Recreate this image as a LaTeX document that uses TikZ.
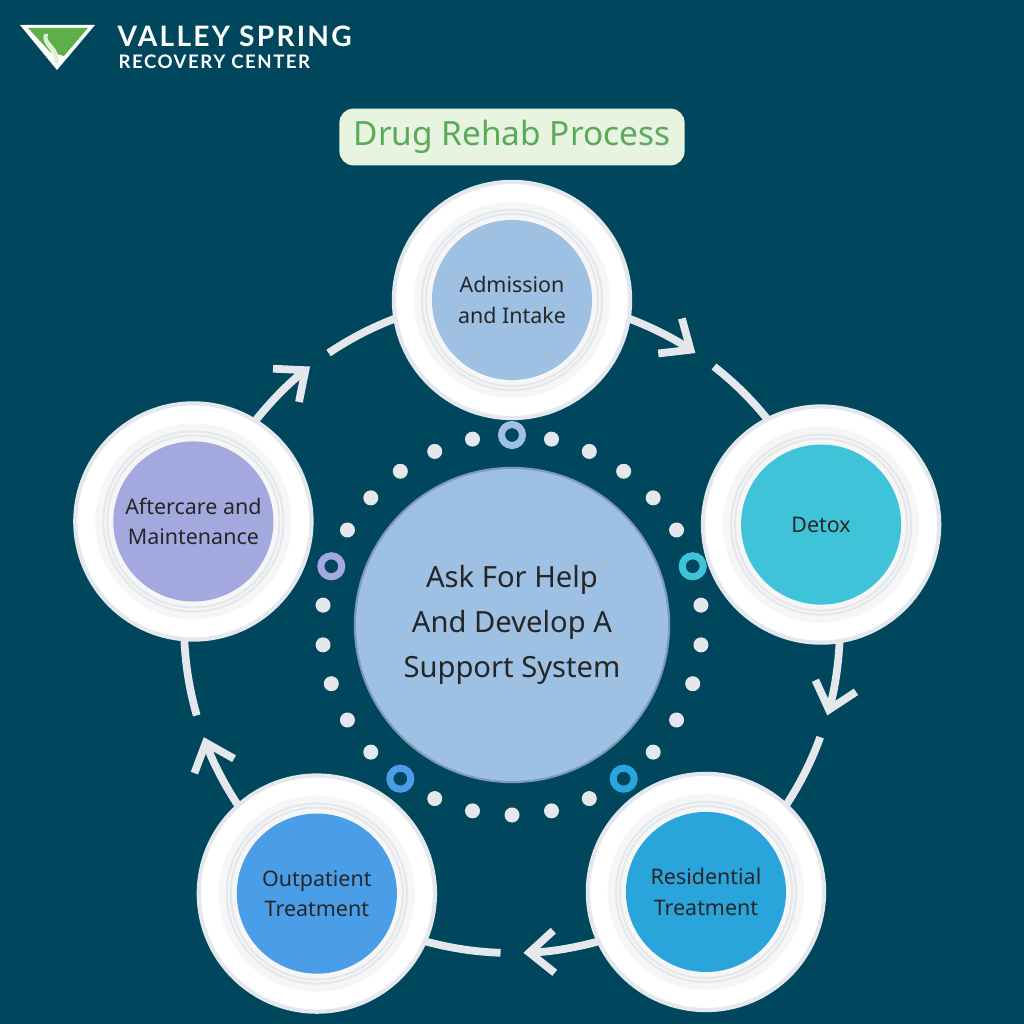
\documentclass[tikz,border=0pt]{standalone}
\usepackage{fontspec}
\setmainfont{Noto Sans}
\newfontfamily\logofont[LetterSpace=8]{Lato}
\usetikzlibrary{arrows.meta}
\definecolor{bgteal}{HTML}{00465C}
\definecolor{admblue}{HTML}{9DC0E3}
\definecolor{dtxcyan}{HTML}{3FC3D9}
\definecolor{resblue}{HTML}{2AA5DC}
\definecolor{outblue}{HTML}{4A9EE8}
\definecolor{aftlilac}{HTML}{A3A8DE}
\definecolor{titlebg}{HTML}{E6F4E0}
\definecolor{titlefg}{HTML}{5AAA5A}
\definecolor{logogreen}{HTML}{5DB048}
\definecolor{ringgrey}{HTML}{E4E8EC}
\begin{document}
\begin{tikzpicture}[x=0.01cm, y=0.01cm,
    stage/.style={circle, draw=ringgrey, line width=1.2pt, fill=white, minimum size=2.36cm, inner sep=0pt,
      path picture={\fill[white!93!gray] (path picture bounding box.center) circle (0.98cm);
        \draw[ringgrey, line width=0.6pt] (path picture bounding box.center) circle (0.9cm);
        \draw[ringgrey, line width=0.6pt] (path picture bounding box.center) circle (0.86cm);}},
    core/.style={circle, minimum size=1.6cm, inner sep=0pt, align=center, font=\fontsize{6.1}{8.6}\selectfont, text=black!85},
    flow/.style={line width=2.2pt, draw=ringgrey},
    tip/.style={-{Straight Barb[length=7pt, width=12pt, line width=2.2pt]}},
    dot/.style={circle, fill=ringgrey, minimum size=0.15cm, inner sep=0pt}
]
    % Background
    \fill[bgteal] (0,0) rectangle (1024,1024);

    % Logo
    \fill[white] (20,999) -- (95,999) -- (57,954) -- cycle;
    \fill[logogreen] (28,996) -- (88,996) -- (64,968) -- (50,972) -- cycle;
    \fill[white!80!logogreen] (48,990) .. controls (44,980) and (62,978) .. (58,960) -- (54,962) .. controls (56,974) and (40,978) .. (44,990) -- cycle;
    \node[anchor=west, text=white, inner sep=0pt, font=\logofont\bfseries\fontsize{8}{9}\selectfont] (brand) at (117,988) {VALLEY SPRING};
    \node[anchor=west, text=white, inner sep=0pt, font=\logofont\bfseries\fontsize{5.3}{6}\selectfont] (sub) at (118,962) {RECOVERY CENTER};

    % Title
    \node[fill=titlebg, rounded corners=4pt, minimum width=3.45cm, minimum height=0.56cm,
      text=titlefg, font=\fontsize{9.5}{11}\selectfont] (title) at (512,887) {Drug Rehab Process};

    % Ring of dots
    \foreach \a [count=\i from 0] in {90,78,...,-258} {
      \pgfmathtruncatemacro{\hol}{mod(\i,6)}
      \ifnum\hol>0
        \node[dot] at ([shift={(\a:190)}]512,399) {};
      \fi
    }
    \foreach \a/\c in {90/admblue, 18/dtxcyan, -54/resblue, -126/outblue, 162/aftlilac}
      \draw[\c, line width=2pt] ([shift={(\a:190)}]512,399) circle (0.105cm);

    % Flow arcs
    \foreach \a in {90,18,-54,-126,162} {
      \draw[flow, tip] ([shift={(\a-20:328)}]512,399) arc[start angle=\a-20, end angle=\a-34, radius=328];
      \draw[flow] ([shift={(\a-38:328)}]512,399) arc[start angle=\a-38, end angle=\a-54, radius=328];
    }

    % Centre
    \node[circle, fill=admblue, draw=admblue!80!black, line width=0.6pt, minimum size=3.14cm, inner sep=0pt, align=center,
      font=\fontsize{8.3}{12.8}\selectfont, text=black!85] (ctr) at (512,399)
      {Ask For Help\\And Develop A\\Support System};

    % Stages
    \node[stage] (adm) at ([shift={(90:325)}]512,399) {};
    \node[stage] (dtx) at ([shift={(18:325)}]512,399) {};
    \node[stage] (res) at ([shift={(-54:330)}]512,399) {};
    \node[stage] (out) at ([shift={(-126:332)}]512,399) {};
    \node[stage] (aft) at ([shift={(162:335)}]512,399) {};
    \node[core, fill=admblue] at (adm) {Admission\\and Intake};
    \node[core, fill=dtxcyan] at (dtx) {Detox};
    \node[core, fill=resblue] at (res) {Residential\\Treatment};
    \node[core, fill=outblue] at (out) {Outpatient\\Treatment};
    \node[core, fill=aftlilac] at (aft) {Aftercare and\\Maintenance};
\end{tikzpicture}
\end{document}
